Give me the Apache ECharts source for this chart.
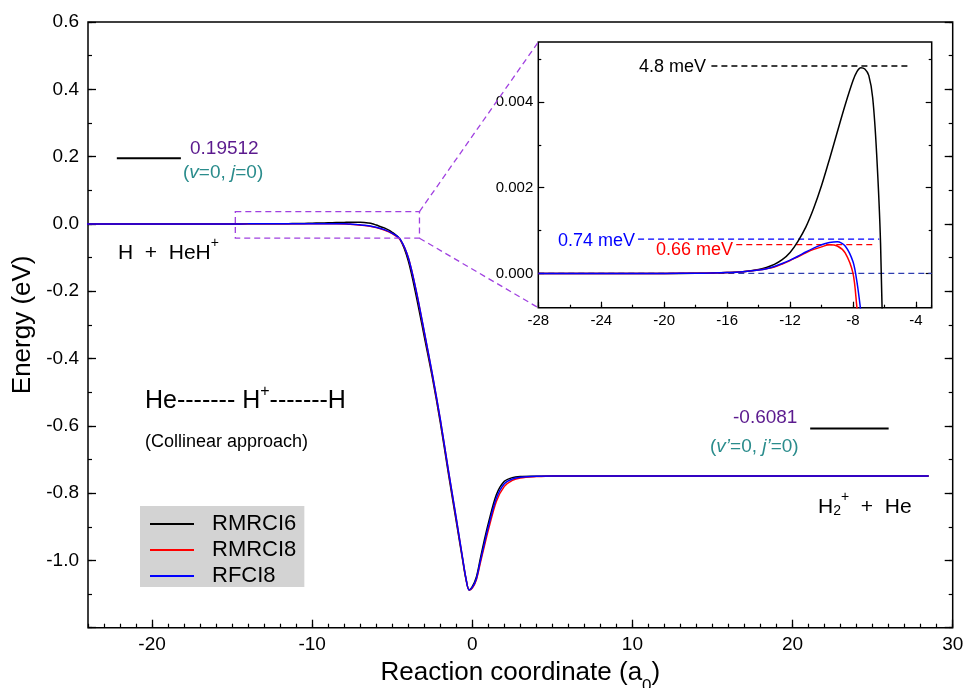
<!DOCTYPE html>
<html><head><meta charset="utf-8">
<script src="https://cdn.jsdelivr.net/npm/echarts@6.0.0/dist/echarts.min.js"></script>
<style>html,body{margin:0;padding:0;background:#fff}#c{width:965px;height:688px}</style>
</head><body><div id="c"></div>
<script>
// ---------- data ----------
const xCoord = [-28,-24,-20,-18,-17,-16,-15,-14,-13.5,-13,-12.5,-12,-11.5,-11,-10.5,-10,-9.5,-9,-8.5,-8,-7.75,-7.5,-7.25,-7,-6.75,-6.5,-6.25,-6,-5.5,-5,-4.5,-4,-3.5,-3,-2.5,-2,-1.5,-1,-0.6,-0.4,-0.2,0,0.25,0.5,0.75,1,1.5,2,2.5,3,4,5,6,8,10,15,20,25,28.5];
const eRMRCI6 = [0,0,0,0.000003,0.000008,0.00002,0.00004,0.00009,0.00014,0.00021,0.00032,0.00049,0.00075,0.00108,0.00152,0.00205,0.00266,0.0033,0.00393,0.0045,0.00471,0.0048,0.00477,0.00462,0.0041,0.0028,0.0007,-0.0035,-0.012,-0.025,-0.047,-0.11,-0.215,-0.335,-0.455,-0.59,-0.74,-0.885,-1.0,-1.055,-1.088,-1.078,-1.05,-0.995,-0.94,-0.89,-0.805,-0.765,-0.754,-0.751,-0.75,-0.749,-0.749,-0.749,-0.749,-0.749,-0.749,-0.749,-0.749];
const eRMRCI8 = [0,0,0,0.000004,0.00001,0.00002,0.00004,0.00008,0.00011,0.00015,0.00022,0.0003,0.00039,0.00048,0.00056,0.00062,0.00067,0.00064,0.00048,0.0,-0.0008,-0.0016,-0.0026,-0.0037,-0.005,-0.0065,-0.0085,-0.011,-0.018,-0.029,-0.047,-0.1,-0.2,-0.322,-0.447,-0.582,-0.732,-0.877,-0.996,-1.053,-1.088,-1.082,-1.058,-1.008,-0.958,-0.91,-0.825,-0.78,-0.762,-0.755,-0.751,-0.749,-0.749,-0.749,-0.749,-0.749,-0.749,-0.749,-0.749];
const eRFCI8 = [0,0,0,0.000004,0.00001,0.00002,0.00004,0.00008,0.00011,0.00016,0.00023,0.00031,0.0004,0.0005,0.00059,0.00067,0.00072,0.00074,0.00064,0.00027,-0.0002,-0.0009,-0.0017,-0.0028,-0.004,-0.0055,-0.0075,-0.01,-0.017,-0.028,-0.046,-0.1,-0.2,-0.32,-0.445,-0.58,-0.73,-0.875,-0.995,-1.052,-1.088,-1.08,-1.055,-1.002,-0.95,-0.9,-0.815,-0.772,-0.758,-0.753,-0.75,-0.749,-0.749,-0.749,-0.749,-0.749,-0.749,-0.749,-0.749];
const seriesNames = ['RMRCI6','RMRCI8','RFCI8'];
const seriesColors = ['#000000','#ff0000','#0000ff'];
const levelReactant = 0.19512;   // (v=0, j=0)
const levelProduct = -0.6081;    // (v'=0, j'=0)
const levelReactantX = [-22.2, -18.2];
const levelProductX = [21.1, 26.0];
const barrierValues = [0.00484, 0.0008, 0.00067]; // dashed guide heights (RMRCI6, RFCI8, RMRCI8)
const barrierX = [[-17.0,-4.43],[-21.66,-6.33],[-15.42,-6.54]];
const xTickLabels = [-20,-10,0,10,20,30];
const insetYLabels = [0, 0.002, 0.004];
const insetYMinor = [0.001, 0.003, 0.005];
const zoomBox = {x:[-14.8,-3.3], y:[-0.0425,0.0366]};

const FONT = 'Liberation Sans, Arial, Helvetica, sans-serif';
const pairs = ys => xCoord.map((x,i)=>[x, ys[i]]);
const curves = [eRMRCI6, eRMRCI8, eRFCI8];

const chart = echarts.init(document.getElementById('c'), null, {renderer:'canvas'});

const noLine = {show:false, onZero:false};
const noSplit = {show:false};
function tickAxis(extra){ return Object.assign({type:'value', axisLine:noLine, splitLine:noSplit, axisLabel:{show:false}}, extra); }

const series = [];
curves.forEach((ys,i)=>{
  series.push({name:seriesNames[i], type:'line', xAxisIndex:0, yAxisIndex:0, data:pairs(ys), symbol:'none', smooth:0.3,
    lineStyle:{color:seriesColors[i], width:1.5}, itemStyle:{color:seriesColors[i]}, z:3, silent:true});
});
series.push({name:'levelR', type:'line', xAxisIndex:0, yAxisIndex:0, data:levelReactantX.map(x=>[x,levelReactant]), symbol:'none', lineStyle:{color:'#000', width:2}, silent:true});
series.push({name:'levelP', type:'line', xAxisIndex:0, yAxisIndex:0, data:levelProductX.map(x=>[x,levelProduct]), symbol:'none', lineStyle:{color:'#000', width:2}, silent:true});
// inset
series.push({name:'zero', type:'line', xAxisIndex:2, yAxisIndex:4, data:[[-28,0],[-3,0]], symbol:'none', lineStyle:{color:'#2c3cb0', width:1.3, type:[6,4]}, silent:true, z:20});
const barrierColors = ['#000','#0000ff','#ff0000'];
barrierValues.forEach((v,i)=>{
  series.push({name:'b'+i, type:'line', xAxisIndex:2, yAxisIndex:4, data:barrierX[i].map(x=>[x,v]), symbol:'none', lineStyle:{color:barrierColors[i], width:1.3, type:[6,4]}, silent:true, z:20});
});
curves.forEach((ys,i)=>{
  series.push({name:seriesNames[i], type:'line', xAxisIndex:2, yAxisIndex:4, data:pairs(ys), symbol:'none', smooth:0.3,
    lineStyle:{color:seriesColors[i], width:1.5}, itemStyle:{color:seriesColors[i]}, z:21, silent:true});
});

const option = {
  animation:false,
  textStyle:{fontFamily:FONT},
  grid:[
    {left:88, right:12.3, top:22, bottom:60.3, show:true, borderColor:'#000', borderWidth:1.5, backgroundColor:'transparent', outerBoundsMode:'none', containLabel:false},
    {left:538.3, right:33.3, top:42, bottom:380.3, show:true, borderColor:'#000', borderWidth:1.5, backgroundColor:'#fff', outerBoundsMode:'none', containLabel:false}
  ],
  xAxis:[
    {type:'value', gridIndex:0, min:-24, max:30, position:'bottom', axisLine:noLine, splitLine:noSplit,
     axisTick:{inside:true, length:8, customValues:xTickLabels, lineStyle:{color:'#000', width:1.3}},
     axisLabel:{customValues:xTickLabels, fontSize:19, color:'#000', margin:8, fontFamily:FONT},
     name:'{n|Reaction coordinate (a}{s|0}{n|)}', nameLocation:'middle', nameGap:29,
     nameTextStyle:{fontSize:26, color:'#000', fontFamily:FONT, rich:{n:{fontSize:26, verticalAlign:'top', fontFamily:FONT, color:'#000'}, s:{fontSize:17, verticalAlign:'top', padding:[18,0,0,0], fontFamily:FONT, color:'#000'}}}},
    tickAxis({gridIndex:0, min:-24, max:30, interval:1, position:'bottom', axisTick:{inside:true, length:4, lineStyle:{color:'#000', width:1.2}}}),
    {type:'value', gridIndex:1, min:-28, max:-3, interval:4, position:'bottom', axisLine:noLine, splitLine:noSplit,
     axisTick:{inside:true, length:6, lineStyle:{color:'#000', width:1.2}},
     axisLabel:{fontSize:15, color:'#000', margin:6, fontFamily:FONT, showMaxLabel:false}},
    tickAxis({gridIndex:1, min:-28, max:-3, interval:2, position:'bottom', axisTick:{inside:true, length:3, lineStyle:{color:'#000', width:1.2}}})
  ],
  yAxis:[
    {type:'value', gridIndex:0, min:-1.2, max:0.6, interval:0.2, position:'left', axisLine:noLine, splitLine:noSplit,
     axisTick:{inside:true, length:8, lineStyle:{color:'#000', width:1.3}},
     axisLabel:{fontSize:19, color:'#000', margin:9, fontFamily:FONT, formatter:v=> (Math.abs(v+1.2)<1e-6 ? '' : v.toFixed(1))},
     name:'Energy (eV)', nameLocation:'middle', nameGap:45, nameTextStyle:{fontSize:26, color:'#000', fontFamily:FONT}},
    tickAxis({gridIndex:0, min:-1.2, max:0.6, interval:0.1, position:'left', axisTick:{inside:true, length:4, lineStyle:{color:'#000', width:1.2}}}),
    tickAxis({gridIndex:0, min:-1.2, max:0.6, interval:0.2, position:'right', axisTick:{inside:true, length:8, lineStyle:{color:'#000', width:1.3}}}),
    tickAxis({gridIndex:0, min:-1.2, max:0.6, interval:0.1, position:'right', axisTick:{inside:true, length:4, lineStyle:{color:'#000', width:1.2}}}),
    {type:'value', gridIndex:1, min:-0.0008, max:0.0054, position:'left', axisLine:noLine, splitLine:noSplit,
     axisTick:{inside:true, length:6, customValues:insetYLabels, lineStyle:{color:'#000', width:1.2}},
     axisLabel:{customValues:insetYLabels, fontSize:15, color:'#000', margin:5, fontFamily:FONT, formatter:v=>v.toFixed(3)}},
    tickAxis({gridIndex:1, min:-0.0008, max:0.0054, position:'left', axisTick:{inside:true, length:3, customValues:insetYMinor, lineStyle:{color:'#000', width:1.2}}}),
    tickAxis({gridIndex:1, min:-0.0008, max:0.0054, position:'right', axisTick:{inside:true, length:6, customValues:insetYLabels, lineStyle:{color:'#000', width:1.2}}}),
    tickAxis({gridIndex:1, min:-0.0008, max:0.0054, position:'right', axisTick:{inside:true, length:3, customValues:insetYMinor, lineStyle:{color:'#000', width:1.2}}})
  ],
  legend:{data:seriesNames, orient:'vertical', left:140, top:506, backgroundColor:'#d3d3d3', borderRadius:0,
    padding:[7,8,0,9], itemWidth:44, itemHeight:18, itemGap:4, selectedMode:false,
    itemStyle:{opacity:0, color:'transparent', borderWidth:0},
    textStyle:{fontSize:22, color:'#000', fontFamily:FONT, padding:[0,0,0,13]}},
  series:series
};
chart.setOption(option);

// ---------- annotations ----------
const P = (xi, yi, pt) => chart.convertToPixel({xAxisIndex:xi, yAxisIndex:yi}, pt);
const b00 = P(0,0,[zoomBox.x[0], zoomBox.y[1]]);
const b11 = P(0,0,[zoomBox.x[1], zoomBox.y[0]]);
const iTL = P(2,4,[-28, 0.0054]);
const iBL = P(2,4,[-28, -0.0008]);
const dash = {stroke:'#a040e0', lineWidth:1.3, lineDash:[6,4], fill:null};
const purple = '#5b1a8e', teal = '#2a8c8c';
const supRich = (fs, sfs, pad) => ({
  n:{fontSize:fs, verticalAlign:'bottom', fontFamily:FONT},
  p:{fontSize:sfs, verticalAlign:'top', padding:[0,0,pad,0], fontFamily:FONT},
  b:{fontSize:sfs, verticalAlign:'bottom', fontFamily:FONT}
});
const txt = (x, y, text, opts) => ({type:'text', x:x, y:y, z:100, style:Object.assign({text:text, fill:'#000', fontFamily:FONT, fontSize:19, align:'left', verticalAlign:'middle'}, opts)});

chart.setOption({graphic:[
  {type:'rect', z:50, shape:{x:b00[0], y:b00[1], width:b11[0]-b00[0], height:b11[1]-b00[1]}, style:dash},
  {type:'line', z:50, shape:{x1:b11[0], y1:b00[1], x2:iTL[0], y2:iTL[1]}, style:dash},
  {type:'line', z:50, shape:{x1:b11[0], y1:b11[1], x2:iBL[0], y2:iBL[1]}, style:dash},
  txt(190, 149, '0.19512', {fill:purple}),
  txt(183, 173, '{t|(}{i|v}{t|=0, }{i|j}{t|=0)}', {fill:teal, rich:{t:{fontSize:19, fontFamily:FONT}, i:{fontSize:19, fontStyle:'italic', fontFamily:FONT}}}),
  txt(118, 250, '{n|H  +  HeH}{p|+}', {rich:supRich(21,14,14)}),
  txt(145, 399, '{n|He------- H}{p|+}{n|-------H}', {rich:supRich(25,16,14)}),
  txt(145, 442, '(Collinear approach)', {fontSize:18}),
  txt(733, 418, '-0.6081', {fill:purple}),
  txt(710, 447, '{t|(}{i|v\u2019}{t|=0, }{i|j\u2019}{t|=0)}', {fill:teal, rich:{t:{fontSize:19, fontFamily:FONT}, i:{fontSize:19, fontStyle:'italic', fontFamily:FONT}}}),
  txt(818, 504, '{n|H}{b|2}{p|+}{n|  +  He}', {rich:supRich(21,14,14)}),
  txt(706, 67, '4.8 meV', {fontSize:18, align:'right'}),
  txt(635, 241, '0.74 meV', {fontSize:18, align:'right', fill:'#0000ff'}),
  txt(733, 250, '0.66 meV', {fontSize:18, align:'right', fill:'#ff0000'})
]});
</script></body></html>
